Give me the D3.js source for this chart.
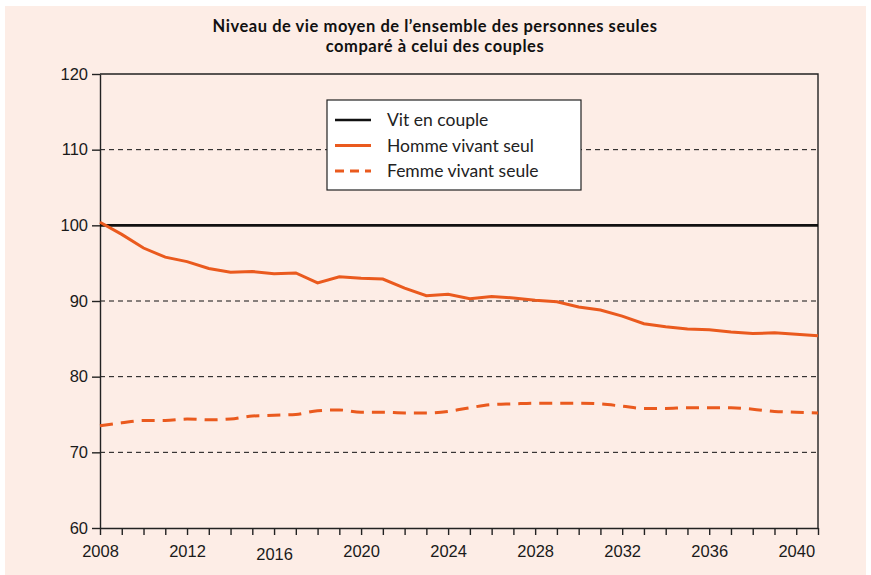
<!DOCTYPE html>
<html>
<head>
<meta charset="utf-8">
<script src="https://cdn.jsdelivr.net/npm/d3@7"></script>
<style>
    body { margin: 0; background: #ffffff; }
    svg { display: block; font-family: Lato, "Open Sans", sans-serif; }
    .grid line { stroke: #111; stroke-width: 1; stroke-dasharray: 5,4; }
    .axis path, .axis line { stroke: #222; stroke-width: 1.4; }
    .axis text { fill: #1a1a1a; font-size: 16.5px; }
</style>
</head>
<body>
<svg width="871" height="575"></svg>
<script>
var years = d3.range(2008, 2042);
var couple = years.map(function() { return 100; });
var homme = [100.4, 98.8, 97.0, 95.8, 95.2, 94.3, 93.8, 93.9, 93.6, 93.7,
    92.4, 93.2, 93.0, 92.9, 91.7, 90.7, 90.9, 90.3, 90.6, 90.4,
    90.1, 89.9, 89.2, 88.8, 88.0, 87.0, 86.6, 86.3, 86.2, 85.9,
    85.7, 85.8, 85.6, 85.4];
var femme = [73.5, 73.9, 74.2, 74.2, 74.4, 74.3, 74.4, 74.8, 74.9, 75.0,
    75.5, 75.6, 75.3, 75.3, 75.2, 75.2, 75.4, 75.9, 76.3, 76.4,
    76.5, 76.5, 76.5, 76.4, 76.1, 75.8, 75.8, 75.9, 75.9, 75.9,
    75.7, 75.4, 75.3, 75.2];
var yTicks = [60, 70, 80, 90, 100, 110, 120];
var gridTicks = [70, 80, 90, 110];
var titleLines = ["Niveau de vie moyen de l\u2019ensemble des personnes seules", "compar\u00e9 \u00e0 celui des couples"];
var legendLabels = ["Vit en couple", "Homme vivant seul", "Femme vivant seule"];

var svg = d3.select("svg"),
    margin = {top: 74, right: 53, bottom: 47, left: 100},
    width = 871 - margin.left - margin.right,
    height = 575 - margin.top - margin.bottom;

var orange = "#ea5a1e";

// pink panel
svg.append("rect")
    .attr("x", 5).attr("y", 6)
    .attr("width", 861).attr("height", 575)
    .attr("fill", "#fdede6");

svg.append("g")
    .selectAll("text")
    .data(titleLines)
    .enter().append("text")
    .attr("x", 435)
    .attr("y", function(d, i) { return 32 + i * 20; })
    .attr("text-anchor", "middle")
    .style("font-weight", "bold")
    .style("font-size", "16.5px")
    .style("letter-spacing", "0.55px")
    .style("fill", "#111")
    .text(function(d) { return d; });

var x = d3.scaleLinear().domain([2008, 2041]).range([0, width]);
var y = d3.scaleLinear().domain([60, 120]).range([height, 0]);

var g = svg.append("g").attr("transform", "translate(" + margin.left + "," + margin.top + ")");

g.append("g")
    .attr("class", "grid")
    .selectAll("line")
    .data(gridTicks)
    .enter().append("line")
    .attr("x1", 0).attr("x2", width)
    .attr("y1", function(d) { return y(d); })
    .attr("y2", function(d) { return y(d); });

// frame top and right
g.append("path")
    .attr("d", "M0," + y(120) + "H" + width + "V" + height)
    .attr("fill", "none")
    .attr("stroke", "#222")
    .attr("stroke-width", 1.4);

var xAxis = g.append("g")
    .attr("class", "axis")
    .attr("transform", "translate(0," + height + ")")
    .call(d3.axisBottom(x)
        .tickValues(years)
        .tickSize(7)
        .tickSizeOuter(0)
        .tickPadding(10)
        .tickFormat(function(d) { return (d - 2008) % 4 === 0 ? d : ""; }));
xAxis.selectAll("text")
    .attr("dy", function(d) { return d === 2016 ? "0.92em" : "0.75em"; });

g.append("g")
    .attr("class", "axis")
    .call(d3.axisLeft(y)
        .tickValues(yTicks)
        .tickSize(8)
        .tickSizeOuter(0)
        .tickPadding(4)
        .tickFormat(d3.format("d")));

var line = d3.line()
    .x(function(d, i) { return x(years[i]); })
    .y(function(d) { return y(d); });

var smooth = d3.line()
    .curve(d3.curveMonotoneX)
    .x(function(d, i) { return x(years[i]); })
    .y(function(d) { return y(d); });

g.append("path")
    .datum(couple)
    .attr("d", line)
    .attr("fill", "none")
    .attr("stroke", "#111")
    .attr("stroke-width", 2.6);

g.append("path")
    .datum(homme)
    .attr("d", line)
    .attr("fill", "none")
    .attr("stroke", orange)
    .attr("stroke-width", 3);

g.append("path")
    .datum(femme)
    .attr("d", smooth)
    .attr("fill", "none")
    .attr("stroke", orange)
    .attr("stroke-width", 3)
    .attr("stroke-dasharray", "13,8");

// legend
var legend = svg.append("g").attr("transform", "translate(327,100)");
legend.append("rect")
    .attr("width", 254).attr("height", 90)
    .attr("fill", "#fff")
    .attr("stroke", "#222")
    .attr("stroke-width", 1.2);

var legendStyles = [
    {color: "#111", dash: null},
    {color: orange, dash: null},
    {color: orange, dash: "9,6"}
];

var item = legend.selectAll(".item")
    .data(legendLabels)
    .enter().append("g")
    .attr("class", "item")
    .attr("transform", function(d, i) { return "translate(0," + (20 + i * 25.5) + ")"; });

item.append("line")
    .attr("x1", 8).attr("x2", 44)
    .attr("stroke", function(d, i) { return legendStyles[i].color; })
    .attr("stroke-width", function(d, i) { return i === 0 ? 2.6 : 2.8; })
    .attr("stroke-dasharray", function(d, i) { return legendStyles[i].dash; });

item.append("text")
    .attr("x", 60)
    .attr("dy", "0.35em")
    .style("font-size", "17.5px")
    .style("fill", "#222")
    .text(function(d) { return d; });
</script>
</body>
</html>
